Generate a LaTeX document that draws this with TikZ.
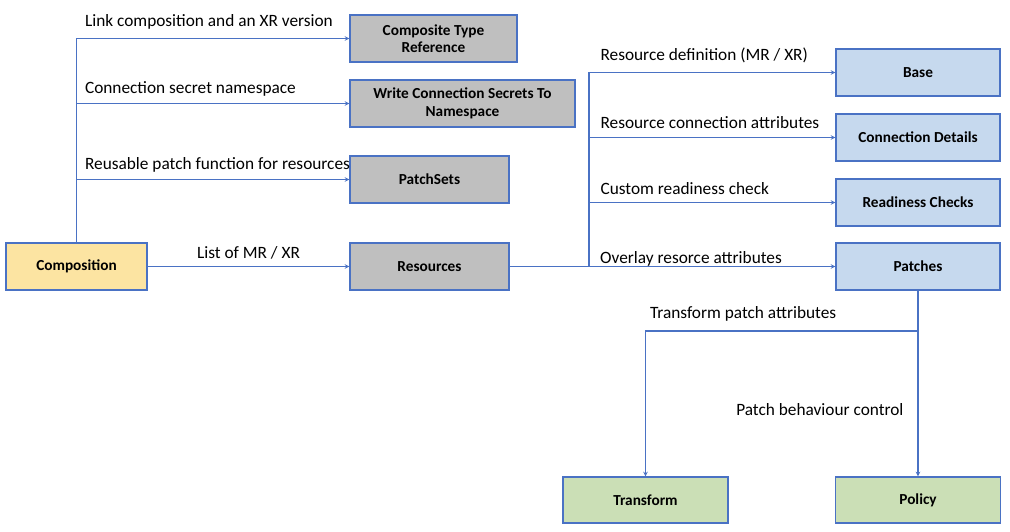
\documentclass[tikz,border=0pt]{standalone}
\usepackage{fontspec}
\setmainfont{Carlito}
\usepackage{tikz}
\usepackage{xcolor}
\usetikzlibrary{shapes.geometric, arrows, positioning}
\definecolor{edgeblue}{HTML}{4A72C4}
\definecolor{compyellow}{HTML}{FCE4A2}
\definecolor{boxgray}{HTML}{BFBFBF}
\definecolor{boxblue}{HTML}{C6D9EE}
\definecolor{boxgreen}{HTML}{CBDFB6}
\tikzstyle{blocky} = [rectangle, draw=edgeblue, line width=1.2pt, align=center, minimum height=47pt, font=\fontsize{15.3}{17.5}\selectfont\bfseries, fill = compyellow]
\tikzstyle{blockg} = [rectangle, draw=edgeblue, line width=1.2pt, align=center, minimum height=47pt, font=\fontsize{15.3}{17.5}\selectfont\bfseries, fill = boxgray]
\tikzstyle{blockb} = [rectangle, draw=edgeblue, line width=1.2pt, align=center, minimum height=47pt, minimum width=164pt, font=\fontsize{15.3}{17.5}\selectfont\bfseries, fill = boxblue]
\tikzstyle{blockt} = [rectangle, draw=edgeblue, line width=1.2pt, align=center, minimum height=46pt, minimum width=165pt, font=\fontsize{15.3}{17.5}\selectfont\bfseries, fill = boxgreen]
\tikzstyle{lbl} = [anchor=base west, inner sep=0, font=\fontsize{17.3}{20}\selectfont]
\tikzstyle{line} = [draw=edgeblue, line width=1.1pt, ->, >=stealth]

\begin{document}
\begin{tikzpicture}[node distance=1pt, on grid, auto]
\useasboundingbox (-76.5pt,266.5pt) rectangle (933.5pt,-265.5pt);

\node [blocky, minimum width=141pt] (C) {Composition};
\node [blockg, minimum width=159pt, right=353pt of C] (R) {Resources};
\node [blockg, minimum width=159pt, above=87pt of R] (PS) {PatchSets};
\node [blockg, minimum width=225pt, above=76pt of PS, xshift=33pt] (WCS) {Write Connection Secrets To\\Namespace};
\node [blockg, minimum width=167pt, above=65pt of WCS, xshift=-29pt] (CTR) {Composite Type\\Reference};

\node [blockb, right=488.5pt of R] (P) {Patches};
\node [blockb, above=64pt of P] (RC) {Readiness Checks};
\node [blockb, above=65pt of RC] (CD) {Connection Details};
\node [blockb, above=65pt of CD] (B) {Base};

\node [blockt, below=233.5pt of P] (Pol) {Policy};
\node [blockt, left=272.5pt of Pol] (T) {Transform};

\coordinate [right=159.5pt of R] (J);
\coordinate [below=64.5pt of P] (K);

% composition side
\path [line] (C.north) |- node[lbl, pos=0.5, xshift=8pt, yshift=12pt] {Link composition and an XR version} (CTR);
\path [line] (C.north) |- node[lbl, pos=0.5, xshift=8pt, yshift=9.5pt] {Connection secret namespace} (WCS);
\path [line] (C.north) |- node[lbl, pos=0.5, xshift=8pt, yshift=10pt] {Reusable patch function for resources} (PS);
\path [line] (C) -- node[lbl, anchor=base, midway, yshift=8pt] {List of MR / XR} (R);

% resources side
\path [line] (R) -- (P);
\path [line] (J) |- node[lbl, pos=0.5, xshift=11pt, yshift=11.5pt] {Resource definition (MR / XR)} (B);
\path [line] (J) |- node[lbl, pos=0.5, xshift=11pt, yshift=8.5pt] {Resource connection attributes} (CD);
\path [line] (J) |- node[lbl, pos=0.5, xshift=11pt, yshift=7.5pt] {Custom readiness check} (RC);
\node [lbl, right=11pt of J, yshift=8pt] {Overlay resorce attributes};

% patches
\path [line] (P) -- node[lbl, anchor=base east, pos=0.67, xshift=-14pt] {Patch behaviour control} (Pol);
\path [line] (K) -| node[lbl, pos=0.5, xshift=4pt, yshift=12pt] {Transform patch attributes} (T);

\end{tikzpicture}
\end{document}
